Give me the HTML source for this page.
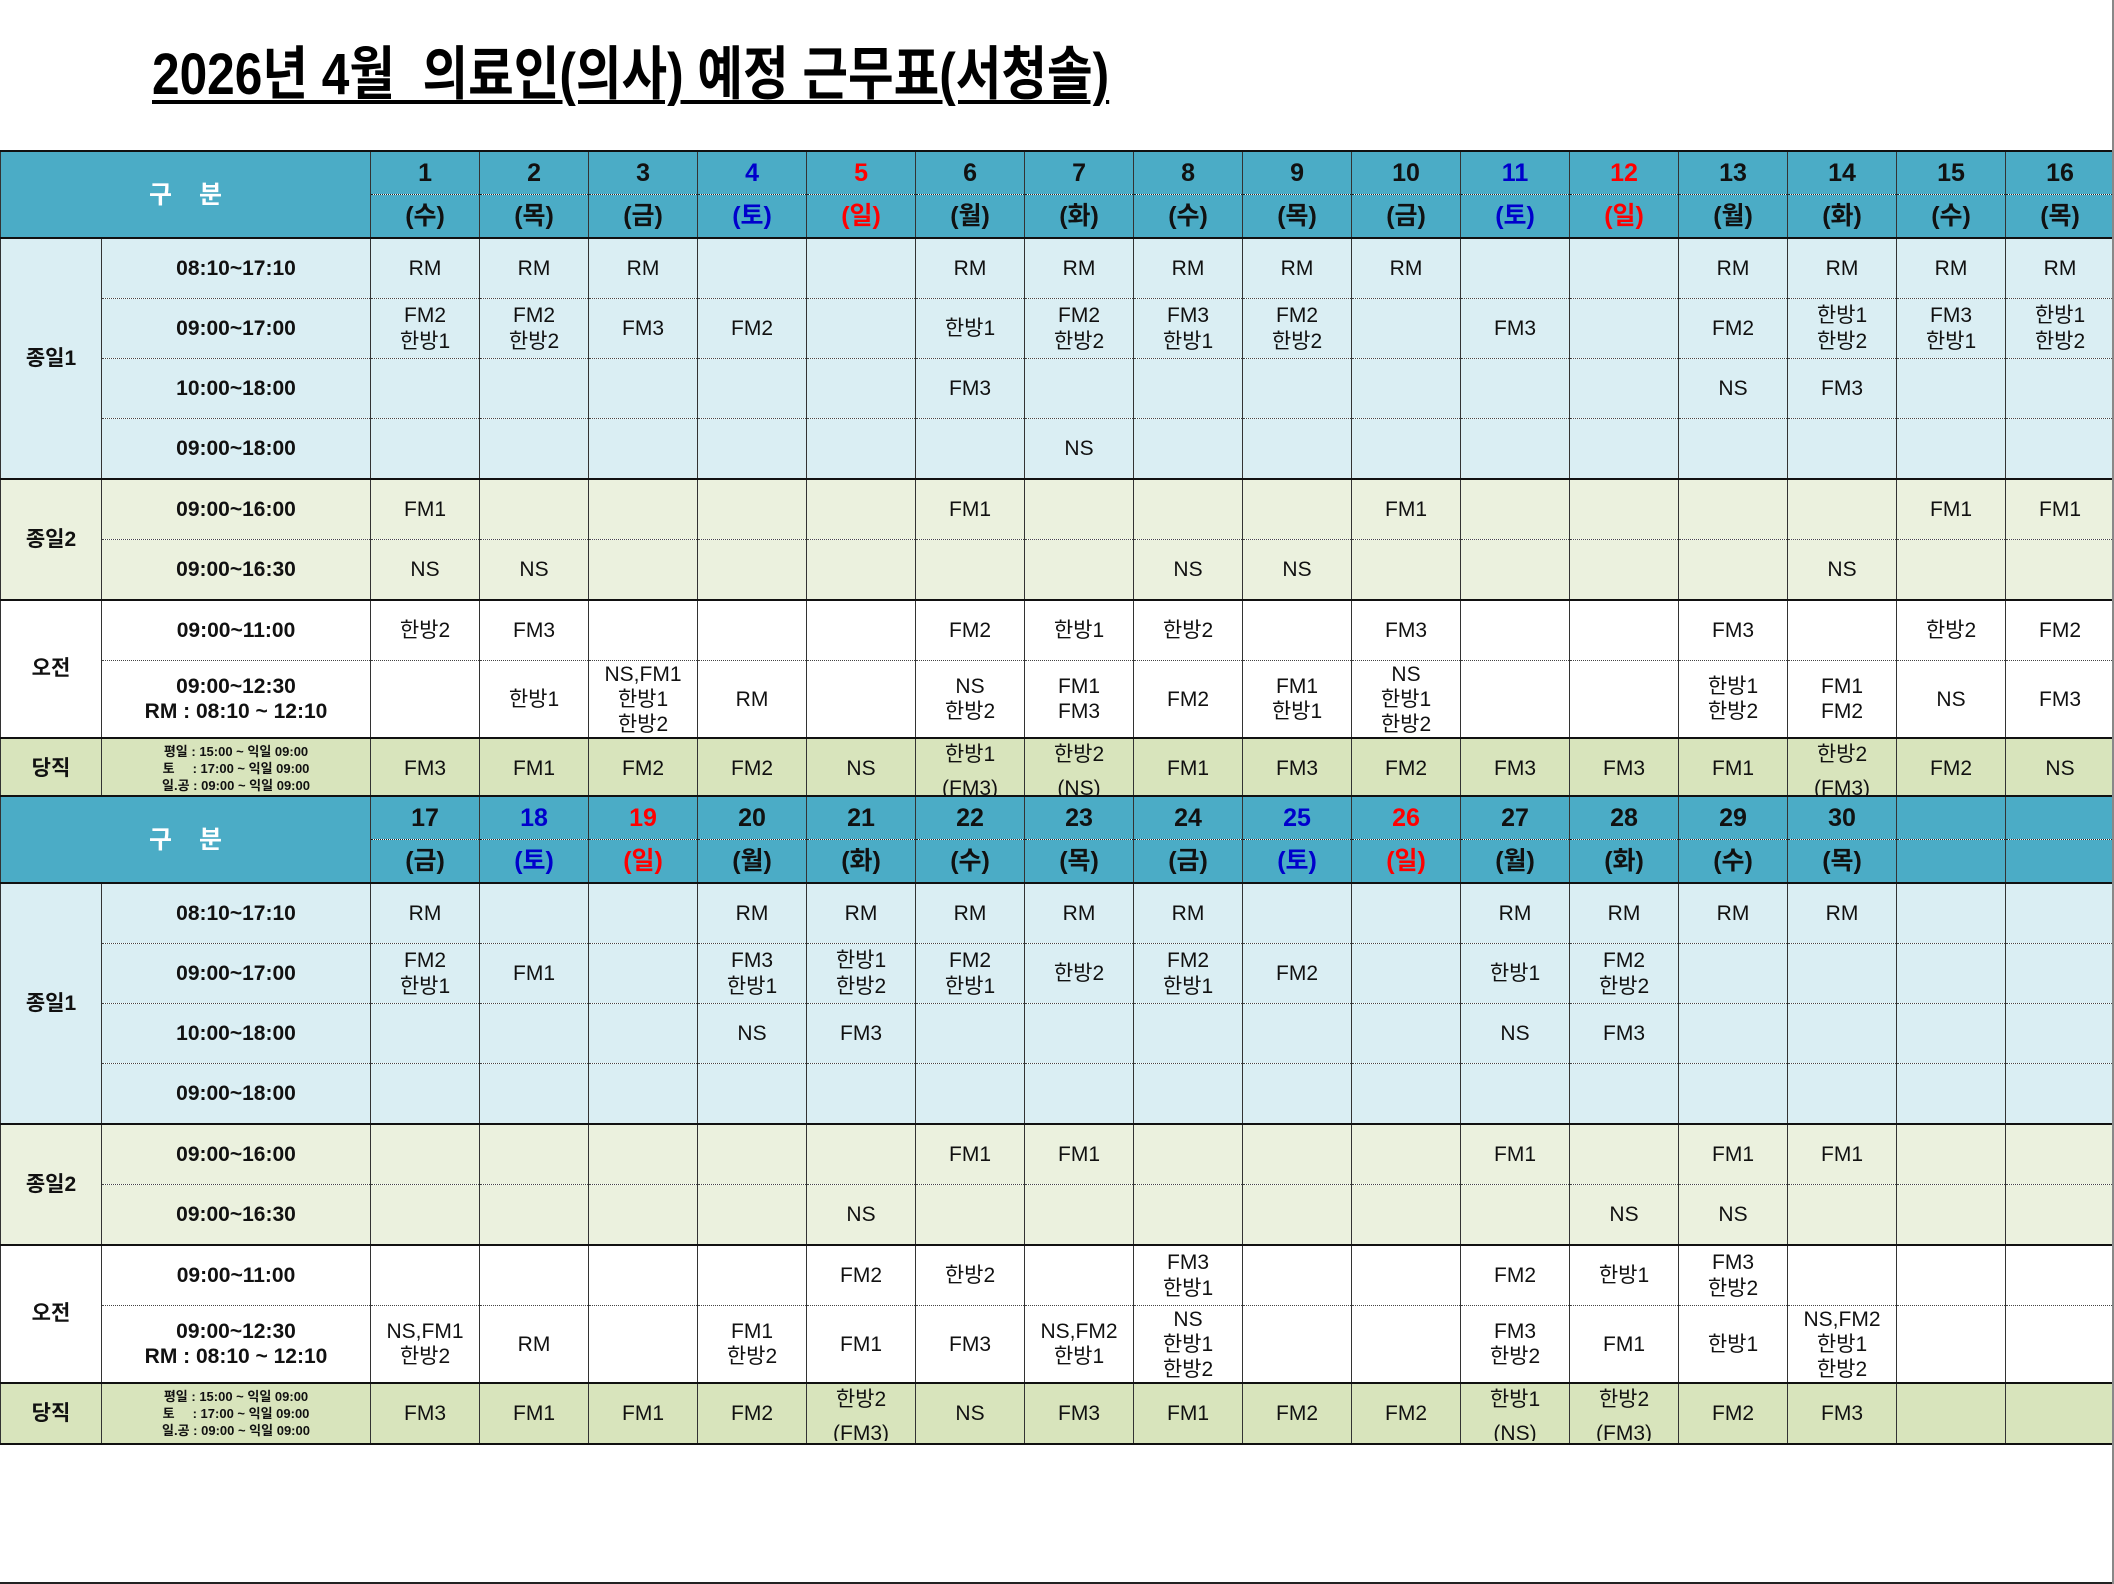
<!DOCTYPE html>
<html><head><meta charset="utf-8"><style>
body{margin:0;width:2114px;height:1584px;background:#fff;position:relative;overflow:hidden;font-family:"Liberation Sans","Noto Sans CJK KR",sans-serif;}
.title{position:absolute;left:152px;top:42px;font-size:58px;font-weight:bold;line-height:66px;white-space:nowrap;transform:scaleX(0.855);transform-origin:left top;}
.title span{text-decoration:underline;text-decoration-thickness:4px;text-underline-offset:6px;}
table{position:absolute;left:0;border-collapse:collapse;table-layout:fixed;width:2114px;}
td{padding:0;text-align:center;vertical-align:middle;font-size:21px;line-height:26px;color:#111;border-left:1px solid #333;border-right:1px solid #333;overflow:hidden;white-space:nowrap;}
tr.h1 td{height:42px;background:#4bacc6;font-weight:bold;font-size:25px;border-top:2px solid #111;}
tr.h2 td{height:42px;background:#4bacc6;font-weight:bold;font-size:25px;border-top:1px dotted #222;border-bottom:2px solid #111;}
td.gb{color:#fff;font-size:25px;font-weight:normal;letter-spacing:10px;padding-left:10px;background:#4bacc6;}
.b{color:#0000cc}.r{color:#ff0000}
tr.r td{height:59px;border-top:1px dotted #444;}
tr.r78 td{height:76px;line-height:25px;border-top:1px dotted #444;}
tr.g td{border-top:2px solid #111;}
.bl td{background:#daeef3}.gr td{background:#ebf1de}.wh td{background:#fff}.dj td{background:#d8e4bc;border-bottom:2px solid #111;}
td.lab{font-weight:bold;font-size:21px;}
td.tm{font-weight:bold;font-size:21px;}
td.sm{font-weight:bold;font-size:13px;line-height:17px;}
.v2 div{height:58px;overflow:hidden;line-height:34px;margin-top:-4px;}
</style></head><body>
<div class="title"><span>2026년 4월&nbsp; 의료인(의사) 예정 근무표(서청솔)</span></div>

<table style="top:150px">
<colgroup><col style="width:101px"><col style="width:269px"><col span="16" style="width:109px"></colgroup>
<tr class="h1"><td colspan="2" rowspan="2" class="gb">구&nbsp;분</td><td>1</td><td>2</td><td>3</td><td class="b">4</td><td class="r">5</td><td>6</td><td>7</td><td>8</td><td>9</td><td>10</td><td class="b">11</td><td class="r">12</td><td>13</td><td>14</td><td>15</td><td>16</td></tr>
<tr class="h2"><td>(수)</td><td>(목)</td><td>(금)</td><td class="b">(토)</td><td class="r">(일)</td><td>(월)</td><td>(화)</td><td>(수)</td><td>(목)</td><td>(금)</td><td class="b">(토)</td><td class="r">(일)</td><td>(월)</td><td>(화)</td><td>(수)</td><td>(목)</td></tr>
<tr class="r bl g"><td rowspan="4" class="lab">종일1</td><td class="tm">08:10~17:10</td><td>RM</td><td>RM</td><td>RM</td><td></td><td></td><td>RM</td><td>RM</td><td>RM</td><td>RM</td><td>RM</td><td></td><td></td><td>RM</td><td>RM</td><td>RM</td><td>RM</td></tr>
<tr class="r bl"><td class="tm">09:00~17:00</td><td>FM2<br>한방1</td><td>FM2<br>한방2</td><td>FM3</td><td>FM2</td><td></td><td>한방1</td><td>FM2<br>한방2</td><td>FM3<br>한방1</td><td>FM2<br>한방2</td><td></td><td>FM3</td><td></td><td>FM2</td><td>한방1<br>한방2</td><td>FM3<br>한방1</td><td>한방1<br>한방2</td></tr>
<tr class="r bl"><td class="tm">10:00~18:00</td><td></td><td></td><td></td><td></td><td></td><td>FM3</td><td></td><td></td><td></td><td></td><td></td><td></td><td>NS</td><td>FM3</td><td></td><td></td></tr>
<tr class="r bl"><td class="tm">09:00~18:00</td><td></td><td></td><td></td><td></td><td></td><td></td><td>NS</td><td></td><td></td><td></td><td></td><td></td><td></td><td></td><td></td><td></td></tr>
<tr class="r gr g"><td rowspan="2" class="lab">종일2</td><td class="tm">09:00~16:00</td><td>FM1</td><td></td><td></td><td></td><td></td><td>FM1</td><td></td><td></td><td></td><td>FM1</td><td></td><td></td><td></td><td></td><td>FM1</td><td>FM1</td></tr>
<tr class="r gr"><td class="tm">09:00~16:30</td><td>NS</td><td>NS</td><td></td><td></td><td></td><td></td><td></td><td>NS</td><td>NS</td><td></td><td></td><td></td><td></td><td>NS</td><td></td><td></td></tr>
<tr class="r wh g"><td rowspan="2" class="lab">오전</td><td class="tm">09:00~11:00</td><td>한방2</td><td>FM3</td><td></td><td></td><td></td><td>FM2</td><td>한방1</td><td>한방2</td><td></td><td>FM3</td><td></td><td></td><td>FM3</td><td></td><td>한방2</td><td>FM2</td></tr>
<tr class="r78 wh"><td class="tm">09:00~12:30<br>RM : 08:10 ~ 12:10</td><td></td><td>한방1</td><td>NS,FM1<br>한방1<br>한방2</td><td>RM</td><td></td><td>NS<br>한방2</td><td>FM1<br>FM3</td><td>FM2</td><td>FM1<br>한방1</td><td>NS<br>한방1<br>한방2</td><td></td><td></td><td>한방1<br>한방2</td><td>FM1<br>FM2</td><td>NS</td><td>FM3</td></tr>
<tr class="r dj g"><td class="lab">당직</td><td class="sm">평일 : 15:00 ~ 익일 09:00<br>토&nbsp;&nbsp;&nbsp;&nbsp; : 17:00 ~ 익일 09:00<br>일.공 : 09:00 ~ 익일 09:00</td><td>FM3</td><td>FM1</td><td>FM2</td><td>FM2</td><td>NS</td><td class="v2"><div>한방1<br>(FM3)</div></td><td class="v2"><div>한방2<br>(NS)</div></td><td>FM1</td><td>FM3</td><td>FM2</td><td>FM3</td><td>FM3</td><td>FM1</td><td class="v2"><div>한방2<br>(FM3)</div></td><td>FM2</td><td>NS</td></tr>
</table>

<table style="top:795px">
<colgroup><col style="width:101px"><col style="width:269px"><col span="16" style="width:109px"></colgroup>
<tr class="h1"><td colspan="2" rowspan="2" class="gb">구&nbsp;분</td><td>17</td><td class="b">18</td><td class="r">19</td><td>20</td><td>21</td><td>22</td><td>23</td><td>24</td><td class="b">25</td><td class="r">26</td><td>27</td><td>28</td><td>29</td><td>30</td><td></td><td></td></tr>
<tr class="h2"><td>(금)</td><td class="b">(토)</td><td class="r">(일)</td><td>(월)</td><td>(화)</td><td>(수)</td><td>(목)</td><td>(금)</td><td class="b">(토)</td><td class="r">(일)</td><td>(월)</td><td>(화)</td><td>(수)</td><td>(목)</td><td></td><td></td></tr>
<tr class="r bl g"><td rowspan="4" class="lab">종일1</td><td class="tm">08:10~17:10</td><td>RM</td><td></td><td></td><td>RM</td><td>RM</td><td>RM</td><td>RM</td><td>RM</td><td></td><td></td><td>RM</td><td>RM</td><td>RM</td><td>RM</td><td></td><td></td></tr>
<tr class="r bl"><td class="tm">09:00~17:00</td><td>FM2<br>한방1</td><td>FM1</td><td></td><td>FM3<br>한방1</td><td>한방1<br>한방2</td><td>FM2<br>한방1</td><td>한방2</td><td>FM2<br>한방1</td><td>FM2</td><td></td><td>한방1</td><td>FM2<br>한방2</td><td></td><td></td><td></td><td></td></tr>
<tr class="r bl"><td class="tm">10:00~18:00</td><td></td><td></td><td></td><td>NS</td><td>FM3</td><td></td><td></td><td></td><td></td><td></td><td>NS</td><td>FM3</td><td></td><td></td><td></td><td></td></tr>
<tr class="r bl"><td class="tm">09:00~18:00</td><td></td><td></td><td></td><td></td><td></td><td></td><td></td><td></td><td></td><td></td><td></td><td></td><td></td><td></td><td></td><td></td></tr>
<tr class="r gr g"><td rowspan="2" class="lab">종일2</td><td class="tm">09:00~16:00</td><td></td><td></td><td></td><td></td><td></td><td>FM1</td><td>FM1</td><td></td><td></td><td></td><td>FM1</td><td></td><td>FM1</td><td>FM1</td><td></td><td></td></tr>
<tr class="r gr"><td class="tm">09:00~16:30</td><td></td><td></td><td></td><td></td><td>NS</td><td></td><td></td><td></td><td></td><td></td><td></td><td>NS</td><td>NS</td><td></td><td></td><td></td></tr>
<tr class="r wh g"><td rowspan="2" class="lab">오전</td><td class="tm">09:00~11:00</td><td></td><td></td><td></td><td></td><td>FM2</td><td>한방2</td><td></td><td>FM3<br>한방1</td><td></td><td></td><td>FM2</td><td>한방1</td><td>FM3<br>한방2</td><td></td><td></td><td></td></tr>
<tr class="r78 wh"><td class="tm">09:00~12:30<br>RM : 08:10 ~ 12:10</td><td>NS,FM1<br>한방2</td><td>RM</td><td></td><td>FM1<br>한방2</td><td>FM1</td><td>FM3</td><td>NS,FM2<br>한방1</td><td>NS<br>한방1<br>한방2</td><td></td><td></td><td>FM3<br>한방2</td><td>FM1</td><td>한방1</td><td>NS,FM2<br>한방1<br>한방2</td><td></td><td></td></tr>
<tr class="r dj g"><td class="lab">당직</td><td class="sm">평일 : 15:00 ~ 익일 09:00<br>토&nbsp;&nbsp;&nbsp;&nbsp; : 17:00 ~ 익일 09:00<br>일.공 : 09:00 ~ 익일 09:00</td><td>FM3</td><td>FM1</td><td>FM1</td><td>FM2</td><td class="v2"><div>한방2<br>(FM3)</div></td><td>NS</td><td>FM3</td><td>FM1</td><td>FM2</td><td>FM2</td><td class="v2"><div>한방1<br>(NS)</div></td><td class="v2"><div>한방2<br>(FM3)</div></td><td>FM2</td><td>FM3</td><td></td><td></td></tr>
</table>
<div style="position:absolute;left:0;top:1582px;width:2114px;height:2px;background:#222"></div>
<div style="position:absolute;left:2112px;top:0;width:2px;height:1584px;background:#888"></div>
</body></html>
